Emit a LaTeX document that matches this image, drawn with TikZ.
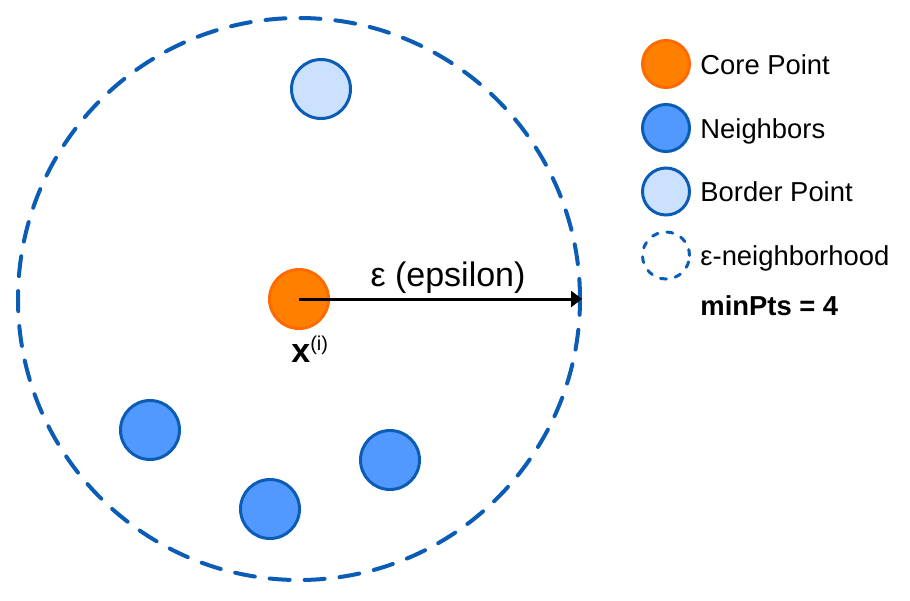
\documentclass[tikz,border=0pt]{standalone}
\usepackage{fontspec}
\setmainfont{Liberation Sans}
\usetikzlibrary{arrows.meta}
\definecolor{coreorange}{HTML}{FF8000}
\definecolor{coreedge}{HTML}{FF6A00}
\definecolor{nbfill}{HTML}{5199FF}
\definecolor{bordfill}{HTML}{CCE0FF}
\definecolor{edgeblue}{HTML}{0B5CB5}
\begin{document}
\begin{tikzpicture}[x=.5pt,y=-.5pt,
    pt/.style={circle,line width=1.5pt,minimum size=29.5pt,inner sep=0,draw=edgeblue},
    corept/.style={pt,draw=coreedge,fill=coreorange},
    nbpt/.style={pt,fill=nbfill},
    bdpt/.style={pt,fill=bordfill},
    keypt/.style={minimum size=23.5pt},
    lbl/.style={anchor=base west,inner sep=0,font=\fontsize{13.7}{16}\selectfont}]
  \useasboundingbox (0,0) rectangle (910,600);
  % epsilon neighborhood
  \node[circle,draw=edgeblue,line width=2pt,line cap=round,dash pattern=on 10pt off 7.5pt,
    minimum size=281pt,inner sep=0] (eps) at (299,299) {};
  \node[bdpt] (bord) at (321,89) {};
  \node[nbpt] (nb1) at (150,430) {};
  \node[nbpt] (nb2) at (390,460) {};
  \node[nbpt] (nb3) at (270,509) {};
  \node[corept] (core) at (299,299) {};
  \draw[line width=1.5pt,-{Triangle[length=5.5pt,width=8pt]}] (core.center) -- (eps.east);
  \node[anchor=base,inner sep=0,font=\fontsize{17}{20}\selectfont] (epslbl) at (448,286) {ε (epsilon)};
  \node[anchor=base west,inner sep=0] (xi) at (291,362)
    {{\fontsize{17}{20}\selectfont\bfseries x}\raisebox{6pt}{\fontsize{10}{11}\selectfont(i)}};
  % legend
  \node[corept,keypt] (kcore) at (666,64) {};
  \node[nbpt,keypt] (knb) at (666,128) {};
  \node[bdpt,keypt] (kbord) at (666,191.5) {};
  \node[pt,keypt,line cap=round,dash pattern=on 3pt off 4.5pt] (keps) at (666,255.5) {};
  \node[lbl] (tcore) at (700,74) {Core Point};
  \node[lbl] (tnb) at (700,138) {Neighbors};
  \node[lbl] (tbord) at (700,201.5) {Border Point};
  \node[lbl] (teps) at (700,265.5) {ε-neighborhood};
  \node[lbl,font=\fontsize{13.7}{16}\selectfont\bfseries] (minpts) at (700,315) {minPts = 4};
\end{tikzpicture}
\end{document}
